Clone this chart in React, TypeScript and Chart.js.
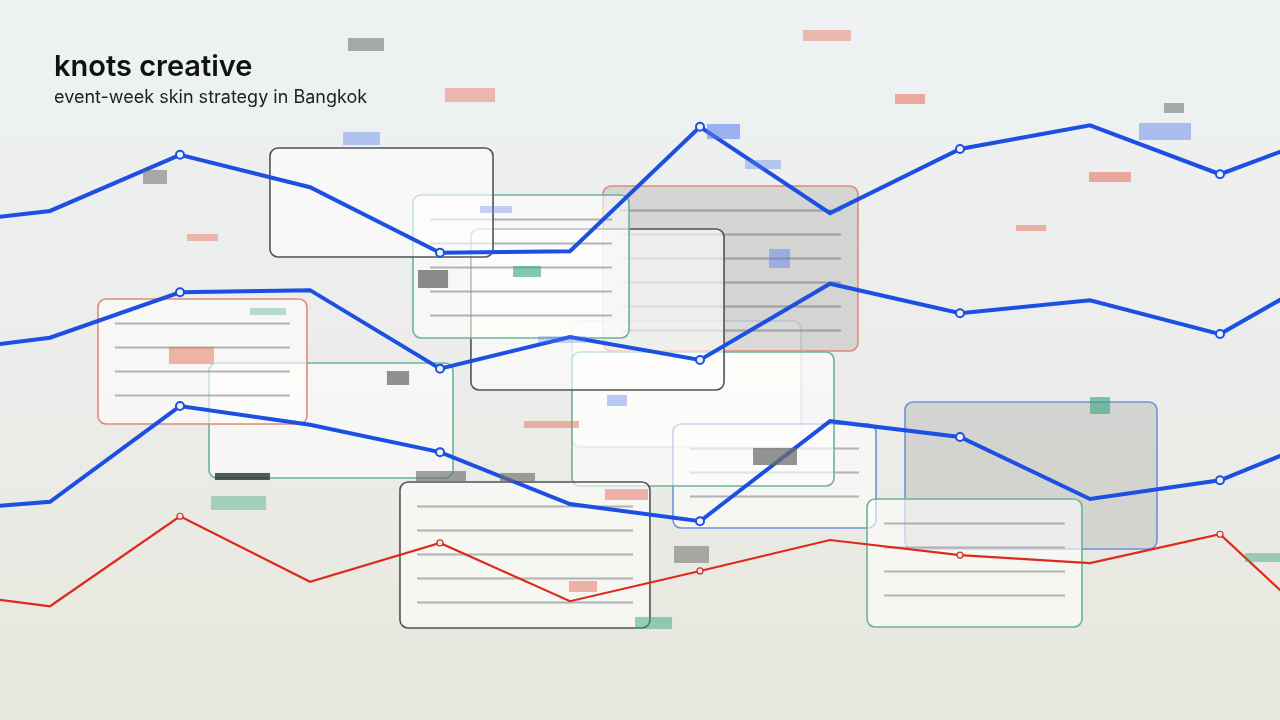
import React, { useEffect, useRef } from "react";
import { Chart, registerables } from "chart.js";

Chart.register(...registerables);

// ---------- data ----------
const categories = ["wk-1", "wk0", "wk1", "wk2", "wk3", "wk4", "wk5", "wk6", "wk7", "wk8", "wk9", "wk10"];
const reachSeries = [68.6, 70.7, 78.5, 74.0, 64.9, 65.1, 82.4, 70.4, 79.3, 82.6, 75.8, 82.5];
const recallSeries = [50.8, 53.1, 59.4, 59.7, 48.8, 53.2, 50.0, 60.6, 56.5, 58.3, 53.6, 63.9];
const footfallSeries = [28.9, 30.3, 43.6, 41.0, 37.2, 30.0, 27.6, 41.5, 39.3, 30.7, 33.3, 40.6];
const spendSeries = [18.1, 15.8, 28.3, 19.2, 24.6, 16.5, 20.7, 25.0, 22.9, 21.8, 25.8, 9.0];

const titleText = "knots creative";
const subtitleText = "event-week skin strategy in Bangkok";

// visible window of the category axis and value axis
const xWindow = [0.6154, 10.4615];
const yWindow = [0, 100];

// decorative cards, in axis units: [xStart, xEnd], [valueTop, valueBottom]
type Card = { xs: number[]; ys: number[]; edge: string; fill: string; ruled: boolean };
const cards: Card[] = [
  { xs: [5.015, 6.777], ys: [55.42, 37.92], edge: "mist", fill: "paper", ruled: false },
  { xs: [5.792, 7.354], ys: [41.11, 26.67], edge: "azure", fill: "paper", ruled: true },
  { xs: [5.015, 7.031], ys: [51.11, 32.5], edge: "jade", fill: "paper", ruled: false },
  { xs: [5.254, 7.215], ys: [74.17, 51.25], edge: "coral", fill: "stone", ruled: true },
  { xs: [4.238, 6.185], ys: [68.19, 45.83], edge: "ink", fill: "paper", ruled: false },
  { xs: [3.792, 5.454], ys: [72.92, 53.06], edge: "jade", fill: "paper", ruled: true },
  { xs: [2.692, 4.408], ys: [79.44, 64.31], edge: "ink", fill: "paper", ruled: false },
  { xs: [2.223, 4.1], ys: [49.58, 33.61], edge: "jade", fill: "paper", ruled: false },
  { xs: [1.369, 2.977], ys: [58.47, 41.11], edge: "coral", fill: "paper", ruled: true },
  { xs: [7.577, 9.515], ys: [44.17, 23.75], edge: "azure", fill: "stone", ruled: false },
  { xs: [7.285, 8.938], ys: [30.69, 12.92], edge: "jade", fill: "paper", ruled: true },
  { xs: [3.692, 5.615], ys: [33.06, 12.78], edge: "ink", fill: "paper", ruled: true },
];

// small colour chips, in axis units
type Chip = { xs: number[]; ys: number[]; tone: string; a: number };
const chips: Chip[] = [
  { xs: [3.292, 3.569], ys: [94.72, 92.92], tone: "gray", a: 0.55 },
  { xs: [4.038, 4.423], ys: [87.78, 85.83], tone: "coral", a: 0.45 },
  { xs: [6.792, 7.161], ys: [95.83, 94.31], tone: "coral", a: 0.45 },
  { xs: [7.5, 7.731], ys: [86.94, 85.56], tone: "coral", a: 0.55 },
  { xs: [3.254, 3.538], ys: [81.67, 79.86], tone: "azure", a: 0.4 },
  { xs: [6.054, 6.308], ys: [82.78, 80.69], tone: "azure", a: 0.55 },
  { xs: [6.346, 6.623], ys: [77.78, 76.53], tone: "azure", a: 0.38 },
  { xs: [9.569, 9.723], ys: [85.69, 84.31], tone: "gray", a: 0.55 },
  { xs: [9.377, 9.777], ys: [82.92, 80.56], tone: "azure", a: 0.45 },
  { xs: [8.992, 9.315], ys: [76.11, 74.72], tone: "coral", a: 0.55 },
  { xs: [8.431, 8.662], ys: [68.75, 67.92], tone: "coral", a: 0.5 },
  { xs: [1.715, 1.9], ys: [76.39, 74.44], tone: "gray", a: 0.55 },
  { xs: [2.054, 2.292], ys: [67.5, 66.53], tone: "coral", a: 0.45 },
  { xs: [4.308, 4.554], ys: [71.39, 70.42], tone: "azure", a: 0.35 },
  { xs: [3.831, 4.062], ys: [62.5, 60.0], tone: "gray", a: 0.8 },
  { xs: [4.562, 4.777], ys: [63.06, 61.53], tone: "jade", a: 0.6 },
  { xs: [6.531, 6.692], ys: [65.42, 62.78], tone: "azure", a: 0.45 },
  { xs: [2.538, 2.815], ys: [57.22, 56.25], tone: "jade", a: 0.35 },
  { xs: [1.915, 2.262], ys: [51.81, 49.44], tone: "coral", a: 0.5 },
  { xs: [3.592, 3.762], ys: [48.47, 46.53], tone: "gray", a: 0.75 },
  { xs: [2.269, 2.692], ys: [34.31, 33.33], tone: "slate", a: 0.85 },
  { xs: [3.815, 4.2], ys: [34.58, 33.19], tone: "gray", a: 0.65 },
  { xs: [2.238, 2.662], ys: [31.11, 29.17], tone: "jade", a: 0.4 },
  { xs: [4.462, 4.731], ys: [34.31, 33.19], tone: "gray", a: 0.65 },
  { xs: [4.754, 5.123], ys: [53.33, 52.36], tone: "azure", a: 0.3 },
  { xs: [5.285, 5.438], ys: [45.14, 43.61], tone: "azure", a: 0.4 },
  { xs: [4.646, 5.069], ys: [41.53, 40.56], tone: "coral", a: 0.5 },
  { xs: [5.269, 5.6], ys: [32.08, 30.56], tone: "coral", a: 0.5 },
  { xs: [6.408, 6.746], ys: [37.78, 35.42], tone: "gray", a: 0.75 },
  { xs: [9.0, 9.154], ys: [44.86, 42.5], tone: "jade", a: 0.6 },
  { xs: [4.992, 5.208], ys: [19.31, 17.78], tone: "coral", a: 0.5 },
  { xs: [5.5, 5.785], ys: [14.31, 12.64], tone: "jade", a: 0.5 },
  { xs: [5.8, 6.069], ys: [24.17, 21.81], tone: "gray", a: 0.55 },
  { xs: [10.192, 10.5], ys: [23.19, 21.94], tone: "jade", a: 0.45 },
];

// ---------- styles ----------
const BLUE = "#1d4fe3";
const RED = "#dd2a1c";
const edgeColors: Record<string, string> = {
  ink: "#525252",
  coral: "#de8a78",
  jade: "#68b49b",
  azure: "#7190db",
  mist: "rgba(115,145,222,0.45)",
};
const fillColors: Record<string, string> = {
  paper: "rgba(253,253,251,0.62)",
  stone: "rgba(188,188,185,0.5)",
};
const chipRgb: Record<string, string> = {
  gray: "110,110,110",
  coral: "232,110,90",
  azure: "85,125,235",
  jade: "55,165,125",
  slate: "50,62,58",
};

const decorPlugin = {
  id: "decor",
  beforeDatasetsDraw(chart: any) {
    const { ctx, scales } = chart;
    const sx = scales.x;
    const sy = scales.y;
    ctx.save();
    for (const c of cards) {
      const x0 = sx.getPixelForValue(c.xs[0]);
      const x1 = sx.getPixelForValue(c.xs[1]);
      const y0 = sy.getPixelForValue(c.ys[0]);
      const y1 = sy.getPixelForValue(c.ys[1]);
      ctx.beginPath();
      ctx.roundRect(x0, y0, x1 - x0, y1 - y0, 8);
      ctx.fillStyle = fillColors[c.fill];
      ctx.fill();
      if (c.ruled) {
        ctx.strokeStyle = c.fill === "stone" ? "rgba(140,140,140,0.75)" : "rgba(150,150,150,0.7)";
        ctx.lineWidth = 2;
        for (let ly = y0 + 24; ly < y1 - 20; ly += 24) {
          ctx.beginPath();
          ctx.moveTo(x0 + 17, Math.round(ly) + 0.5);
          ctx.lineTo(x1 - 17, Math.round(ly) + 0.5);
          ctx.stroke();
        }
      }
      ctx.beginPath();
      ctx.roundRect(x0, y0, x1 - x0, y1 - y0, 8);
      ctx.strokeStyle = edgeColors[c.edge];
      ctx.lineWidth = 1.6;
      ctx.stroke();
    }
    ctx.restore();
  },
  afterDatasetsDraw(chart: any) {
    const { ctx, scales } = chart;
    const sx = scales.x;
    const sy = scales.y;
    ctx.save();
    for (const c of chips) {
      const x0 = sx.getPixelForValue(c.xs[0]);
      const x1 = sx.getPixelForValue(c.xs[1]);
      const y0 = sy.getPixelForValue(c.ys[0]);
      const y1 = sy.getPixelForValue(c.ys[1]);
      ctx.fillStyle = `rgba(${chipRgb[c.tone]},${c.a})`;
      ctx.fillRect(x0, y0, x1 - x0, y1 - y0);
    }
    ctx.restore();
  },
  afterDraw(chart: any) {
    const { ctx } = chart;
    ctx.save();
    ctx.fillStyle = "#111111";
    ctx.textBaseline = "alphabetic";
    ctx.font = "600 29px Inter, 'Noto Sans', sans-serif";
    ctx.fillText(titleText, 54, 76);
    ctx.fillStyle = "#1e1e1e";
    ctx.font = "400 18px Inter, 'Noto Sans', sans-serif";
    ctx.fillText(subtitleText, 54, 103);
    ctx.restore();
  },
};

function toPoints(values: number[]) {
  return categories.map((_, i) => ({ x: i, y: values[i] }));
}

export default function App() {
  const ref = useRef<HTMLCanvasElement | null>(null);

  useEffect(() => {
    document.body.style.margin = "0";
    const canvas = ref.current;
    if (!canvas) return;
    const blueLine = (label: string, values: number[]) => ({
      label,
      data: toPoints(values),
      borderColor: BLUE,
      borderWidth: 4,
      tension: 0,
      pointRadius: categories.map((_, i) => (i % 2 === 0 ? 4 : 0)),
      pointBorderWidth: 2,
      pointBorderColor: BLUE,
      pointBackgroundColor: "rgba(240,243,247,1)",
      fill: false,
      clip: false as any,
    });
    const chart = new Chart(canvas, {
      type: "line",
      data: {
        datasets: [
          blueLine("reach", reachSeries),
          blueLine("recall", recallSeries),
          blueLine("footfall", footfallSeries),
          {
            label: "spend",
            data: toPoints(spendSeries),
            borderColor: RED,
            borderWidth: 2.2,
            tension: 0,
            pointRadius: categories.map((_, i) => (i % 2 === 0 ? 3 : 0)),
            pointBorderWidth: 1.2,
            pointBorderColor: RED,
            pointBackgroundColor: "rgba(240,240,236,1)",
            fill: false,
            clip: false as any,
          },
        ],
      },
      options: {
        animation: false,
        responsive: false,
        maintainAspectRatio: false,
        layout: { padding: 0, autoPadding: false },
        plugins: {
          legend: { display: false },
          tooltip: { enabled: false },
          title: { display: false },
        },
        scales: {
          x: { type: "linear", min: xWindow[0], max: xWindow[1], display: false },
          y: { type: "linear", min: yWindow[0], max: yWindow[1], display: false },
        },
      },
      plugins: [decorPlugin],
    });
    return () => chart.destroy();
  }, []);

  return (
    <div
      style={{
        position: "fixed",
        left: 0,
        top: 0,
        width: 1280,
        height: 720,
        background: "linear-gradient(180deg, #eef2f3 0%, #ecedeb 50%, #e8e7dd 100%)",
      }}
    >
      <canvas ref={ref} width={1280} height={720} style={{ display: "block" }} />
    </div>
  );
}
